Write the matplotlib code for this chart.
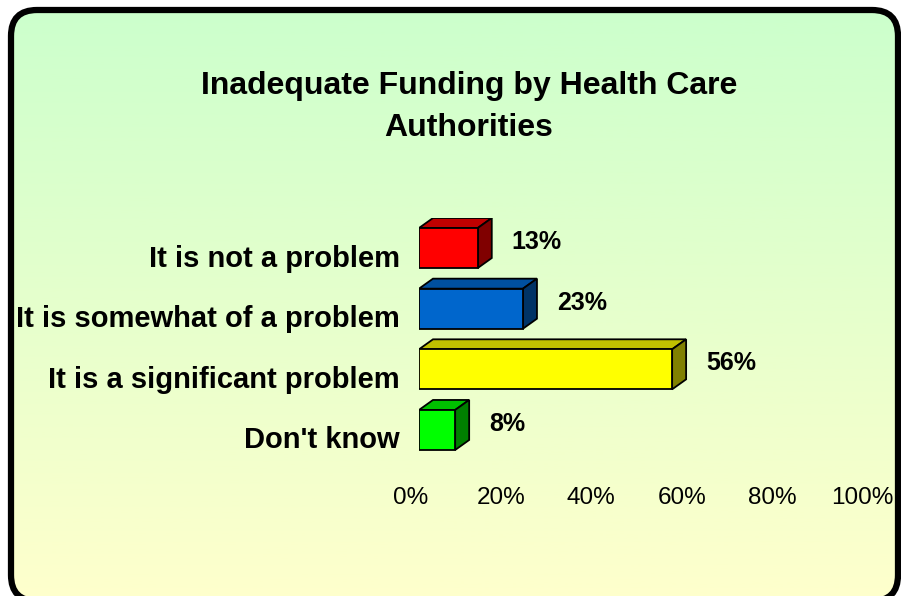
import numpy as np
import matplotlib.pyplot as plt
from matplotlib.patches import FancyBboxPatch, Polygon

plt.rcParams['font.family'] = ['Liberation Sans', 'DejaVu Sans']

categories = ['It is not a problem', 'It is somewhat of a problem',
              'It is a significant problem', "Don't know"]
values = [13, 23, 56, 8]
front_colors = ['#ff0000', '#0066cc', '#ffff00', '#00ff00']
top_colors = ['#c00000', '#0050a0', '#c0c000', '#00c000']
side_colors = ['#800000', '#003366', '#808000', '#008000']
ticks = [0, 20, 40, 60, 80, 100]
tick_labels = ['0%', '20%', '40%', '60%', '80%', '100%']
title = 'Inadequate Funding by Health Care\nAuthorities'

W, H = 901, 596
fig = plt.figure(figsize=(W / 100, H / 100), dpi=100)
fig.patch.set_facecolor('white')

# background: rounded frame with a green -> yellow gradient (pixel coords, y up)
bg = fig.add_axes([0, 0, 1, 1])
bg.set_xlim(0, W)
bg.set_ylim(0, H)
bg.axis('off')
frame = FancyBboxPatch((11, H - 601), 887, 591, boxstyle='round,pad=0,rounding_size=26',
                       fc='none', ec='black', lw=4.5, zorder=3)
bg.add_patch(frame)
grad = np.linspace(0, 1, 256)[:, None, None]
c_top = np.array([204, 255, 204]) / 255
c_bot = np.array([255, 255, 204]) / 255
img = c_top + (c_bot - c_top) * grad
im = bg.imshow(img, extent=(11, 898, H - 601, H - 10), origin='upper', aspect='auto', zorder=1)
im.set_clip_path(frame)
bg.set_xlim(0, W)
bg.set_ylim(0, H)

fig.text(469 / W, 1 - 107 / H, title, ha='center', va='center', fontsize=23,
         fontweight='bold', linespacing=1.5)

# chart area
ax_l, ax_r, ax_t, ax_b = 419, 871, 217.7, 460.3
ax = fig.add_axes([ax_l / W, 1 - ax_b / H, (ax_r - ax_l) / W, (ax_b - ax_t) / H])
ax.set_xlim(0, 100)
ax.set_ylim(3.5, -0.5)
ax.axis('off')

ypos = np.arange(len(categories))
h = 0.66
px_x = (ax_r - ax_l) / 100
px_y = (ax_b - ax_t) / 4
dx = 14 / px_x
dy = 10 / px_y

for i, (y, v) in enumerate(zip(ypos, values)):
    top = y - h / 2
    ax.add_patch(Polygon([(0, top), (v, top), (v + dx, top - dy), (dx, top - dy)],
                         closed=True, fc=top_colors[i], ec='black', lw=1.3, zorder=2))
    ax.add_patch(Polygon([(v, top), (v, top + h), (v + dx, top + h - dy), (v + dx, top - dy)],
                         closed=True, fc=side_colors[i], ec='black', lw=1.3, zorder=2))

ax.barh(ypos, values, height=h, color=front_colors, edgecolor='black', lw=1.3, zorder=3)

for y, v in zip(ypos, values):
    ax.annotate(f'{v}%', (v, y), xytext=(34, -1), textcoords='offset pixels',
                ha='left', va='baseline', fontsize=18, fontweight='bold')

for y, cat in zip(ypos, categories):
    ax.annotate(cat, (0, y), xytext=(-19, -18.5), textcoords='offset pixels',
                ha='right', va='baseline', fontsize=21, fontweight='bold')

for t, lab in zip(ticks, tick_labels):
    ax.annotate(lab, (t, 0), xycoords=('data', 'axes fraction'), xytext=(-8.5, -44),
                textcoords='offset pixels', ha='center', va='baseline', fontsize=17.5)

fig.savefig('out.png', dpi=100)
